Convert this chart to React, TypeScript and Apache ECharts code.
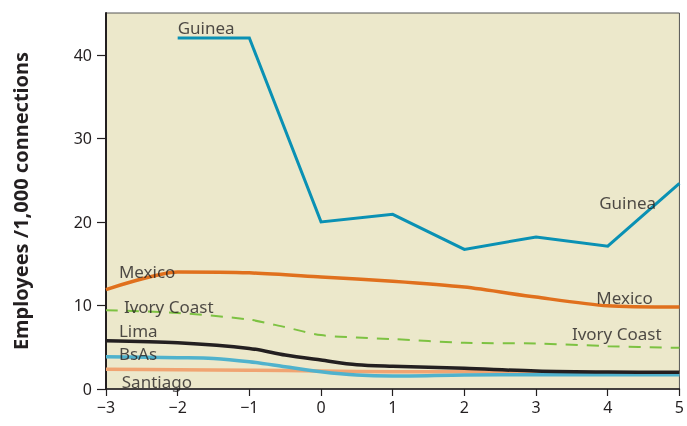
import React, { useEffect, useRef } from "react";
import * as echarts from "echarts";

const xYears = [-3, -2, -1, 0, 1, 2, 3, 4, 5];
const guinea = [null, 42.0, 42.0, 20.0, 20.9, 16.7, 18.2, 17.1, 24.6];
const mexico = [11.9, 14.0, 13.9, 13.4, 12.9, 12.2, 11.0, 9.95, 9.8];
const ivoryX = [-3, -2, -1, -0.5, 0, 0.5, 1, 2, 3, 4, 5];
const ivory = [9.43, 9.1, 8.3, 7.4, 6.45, 6.17, 5.97, 5.53, 5.45, 5.13, 4.93];
const limaX = [-3, -2, -1, -0.5, 0, 0.5, 1, 2, 3, 4, 5];
const lima = [5.77, 5.53, 4.86, 4.06, 3.46, 2.9, 2.72, 2.47, 2.15, 2.03, 2.0];
const bsasX = [-3, -2, -1.5, -1, -0.5, 0, 0.5, 1, 2, 3, 4, 5];
const bsas = [3.85, 3.74, 3.66, 3.26, 2.66, 2.07, 1.67, 1.55, 1.67, 1.7, 1.7, 1.7];
const santiago = [2.35, 2.3, 2.25, 2.15, 2.07, 2.05, 2.0, 1.95, 1.9];
const yTicks = [0, 10, 20, 30, 40];

const labelNames = ["Guinea", "Guinea", "Mexico", "Mexico", "Ivory Coast", "Ivory Coast", "Lima", "BsAs", "Santiago"];
const labelX = [-2.0, 3.88, -2.82, 3.84, -2.75, 3.5, -2.82, -2.82, -2.78];
const labelY = [43.3, 22.3, 14.1, 10.9, 9.9, 6.7, 7.0, 4.3, 0.95];

const pair = (xs: number[], ys: (number | null)[]) => xs.map((x, i) => [x, ys[i]]);

export default function App() {
  const ref = useRef<HTMLDivElement>(null);
  useEffect(() => {
    if (!ref.current) return;
    const chart = echarts.init(ref.current, undefined, { renderer: "svg" });
    const font = "'Noto Sans', 'Open Sans', sans-serif";
    const lineBase = (name: string, data: any[], color: string, width: number, smooth: number | boolean, type: any = "solid", z = 2) => ({
      type: "line",
      name,
      data,
      smooth,
      symbol: "none",
      connectNulls: false,
      z,
      lineStyle: { color, width, type, cap: "butt", join: "miter" },
    });
    chart.setOption({
      animation: false,
      grid: {
        left: 106,
        right: 3,
        top: 13,
        bottom: 37,
        show: true,
        backgroundColor: "#ECE8CB",
        borderColor: "#555555",
        borderWidth: 1,
      },
      xAxis: {
        type: "value",
        min: -3,
        max: 5,
        interval: 1,
        splitLine: { show: false },
        axisLine: { show: true, onZero: false, lineStyle: { color: "#231F20", width: 1.5 } },
        axisTick: { show: true, inside: false, length: 7, lineStyle: { color: "#231F20", width: 1.2 } },
        axisLabel: {
          fontFamily: font,
          fontSize: 16,
          color: "#231F20",
          margin: 10,
          formatter: (v: number) => String(v).replace("-", "\u2212"),
        },
      },
      yAxis: {
        type: "value",
        min: 0,
        max: 45,
        interval: 10,
        splitLine: { show: false },
        name: "Employees /1,000 connections",
        nameLocation: "middle",
        nameRotate: 90,
        nameGap: 76,
        nameTextStyle: { fontFamily: font, fontSize: 20, fontWeight: "bold", color: "#231F20" },
        axisLine: { show: true, onZero: false, lineStyle: { color: "#231F20", width: 2 } },
        axisTick: { show: true, length: 9, customValues: yTicks, lineStyle: { color: "#231F20", width: 1.2 } },
        axisLabel: {
          fontFamily: font,
          fontSize: 16,
          color: "#231F20",
          margin: 14,
          customValues: yTicks,
        },
      },
      series: [
        lineBase("Santiago", pair(xYears, santiago), "#F0A472", 3.5, 0.3, "solid", 2),
        lineBase("BsAs", pair(bsasX, bsas), "#4FB2CD", 3.5, 0.3, "solid", 3),
        lineBase("Lima", pair(limaX, lima), "#231F20", 3.5, 0.3, "solid", 4),
        lineBase("Ivory Coast", pair(ivoryX, ivory), "#7DC242", 2, 0.3, [12, 9], 5),
        lineBase("Mexico", pair(xYears, mexico), "#E0701D", 3.5, 0.25, "solid", 6),
        lineBase("Guinea", pair(xYears, guinea), "#0A91B4", 3, false, "solid", 7),
        {
          type: "scatter",
          symbolSize: 0,
          z: 10,
          silent: true,
          data: labelNames.map((n, i) => ({ value: [labelX[i], labelY[i]], name: n })),
          label: {
            show: true,
            position: "right",
            distance: 0,
            formatter: (p: any) => p.name,
            fontFamily: font,
            fontSize: 17,
            color: "#231F20",
          },
        },
      ],
    });
    return () => chart.dispose();
  }, []);
  return <div ref={ref} style={{ position: "fixed", left: 0, top: 0, width: 687, height: 426 }} />;
}
